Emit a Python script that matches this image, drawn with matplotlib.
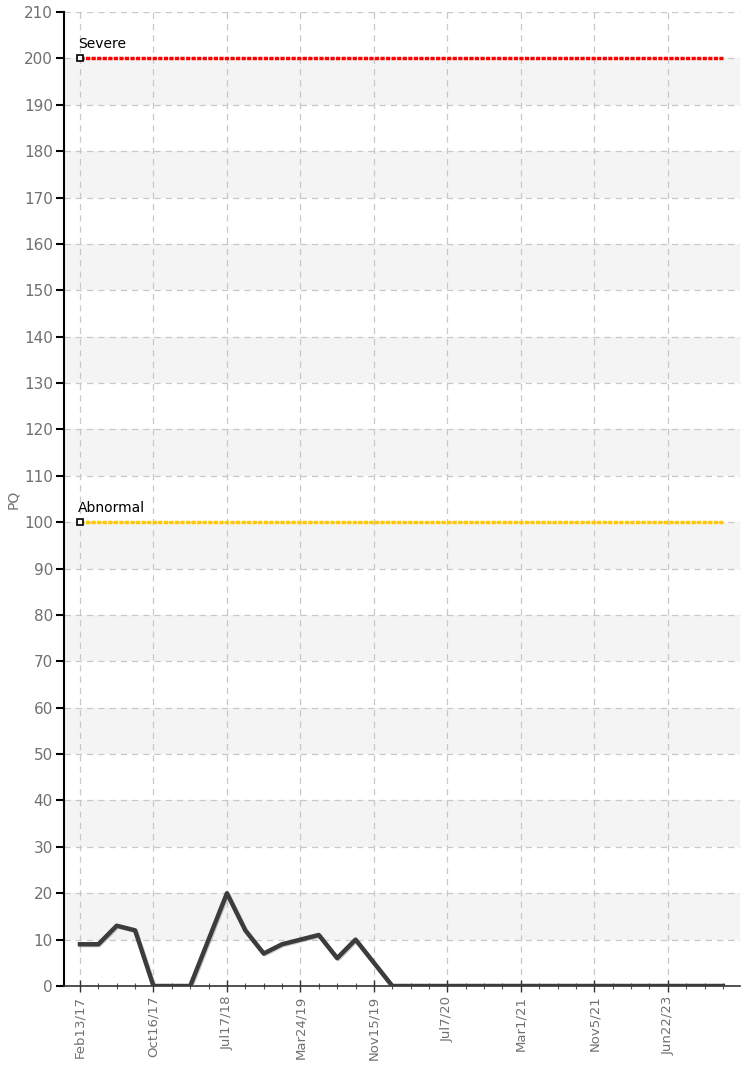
import matplotlib
matplotlib.use("Agg")
import matplotlib.pyplot as plt
import numpy as np

# ---- data ----
pq_values = [9, 9, 13, 12, 0, 0, 0, 10, 20, 12, 7, 9, 10, 11, 6, 10, 5, 0,
             0, 0, 0, 0, 0, 0, 0, 0, 0, 0, 0, 0, 0, 0, 0, 0, 0, 0]
tick_labels = ["Feb13/17", "Oct16/17", "Jul17/18", "Mar24/19", "Nov15/19",
               "Jul7/20", "Mar1/21", "Nov5/21", "Jun22/23"]
tick_positions = [0, 4, 8, 12, 16, 20, 24, 28, 32]
threshold_names = ["Severe", "Abnormal"]
threshold_values = [200, 100]
threshold_colors = ["#ff0000", "#ffc800"]

plt.rcParams['font.family'] = ["DejaVu Sans"]

fig = plt.figure(figsize=(7.48, 10.67), dpi=100)
ax = fig.add_axes([64/748, (1067-986)/1067, (740-64)/748, (986-12)/1067])

x = np.arange(len(pq_values))
ax.set_xlim(-0.87, 35.93)
ax.set_ylim(0, 210)

# alternating bands
for lo in range(10, 200, 20):
    ax.axhspan(lo, lo + 10, color="#f4f4f4", zorder=0, lw=0)

ax.set_yticks(np.arange(0, 211, 10))
ax.set_xticks(tick_positions)
ax.set_xticklabels(tick_labels, rotation=90)
ax.set_xticks(x, minor=True)
ax.grid(True, which="major", color="#c8c8c8", linestyle=(0, (5, 4)), lw=0.9, zorder=1)

for name, val, col in zip(threshold_names, threshold_values, threshold_colors):
    ax.plot([0, len(pq_values) - 1], [val, val], color=col, lw=2.5,
            linestyle=(0, (1.2, 0.4)), zorder=3, solid_capstyle="butt")
    ax.plot([0], [val], marker="s", ms=5, mfc="white", mec="black", mew=1.2, zorder=5)
    ax.text(-0.1, val + 1.5, name, fontsize=10, color="black", ha="left", va="bottom", zorder=6)

# shadow + line
ax.plot(x + 0.06, np.array(pq_values) - 0.2, color="#909090", lw=3, zorder=3, alpha=0.5)
ax.plot(x, pq_values, color="#3c3c3c", lw=3.2, zorder=4)

for s in ["top", "right"]:
    ax.spines[s].set_visible(False)
ax.spines["left"].set_color("black")
ax.spines["left"].set_linewidth(1.5)
ax.spines["bottom"].set_color("#333333")
ax.spines["bottom"].set_linewidth(1.2)

ax.tick_params(axis="y", direction="out", length=6, width=1.5, colors="black",
               labelcolor="#707070", labelsize=11, pad=2)
ax.tick_params(axis="x", which="major", direction="inout", length=8, width=1,
               colors="#333333", labelcolor="#707070", labelsize=9.5, pad=3)
ax.tick_params(axis="x", which="minor", direction="inout", length=4, width=0.8, colors="#555555")

ax.set_ylabel("PQ", color="#707070", fontsize=10)
ax.yaxis.set_label_coords(-0.065, 0.5)

fig.savefig("out.png", dpi=100)
